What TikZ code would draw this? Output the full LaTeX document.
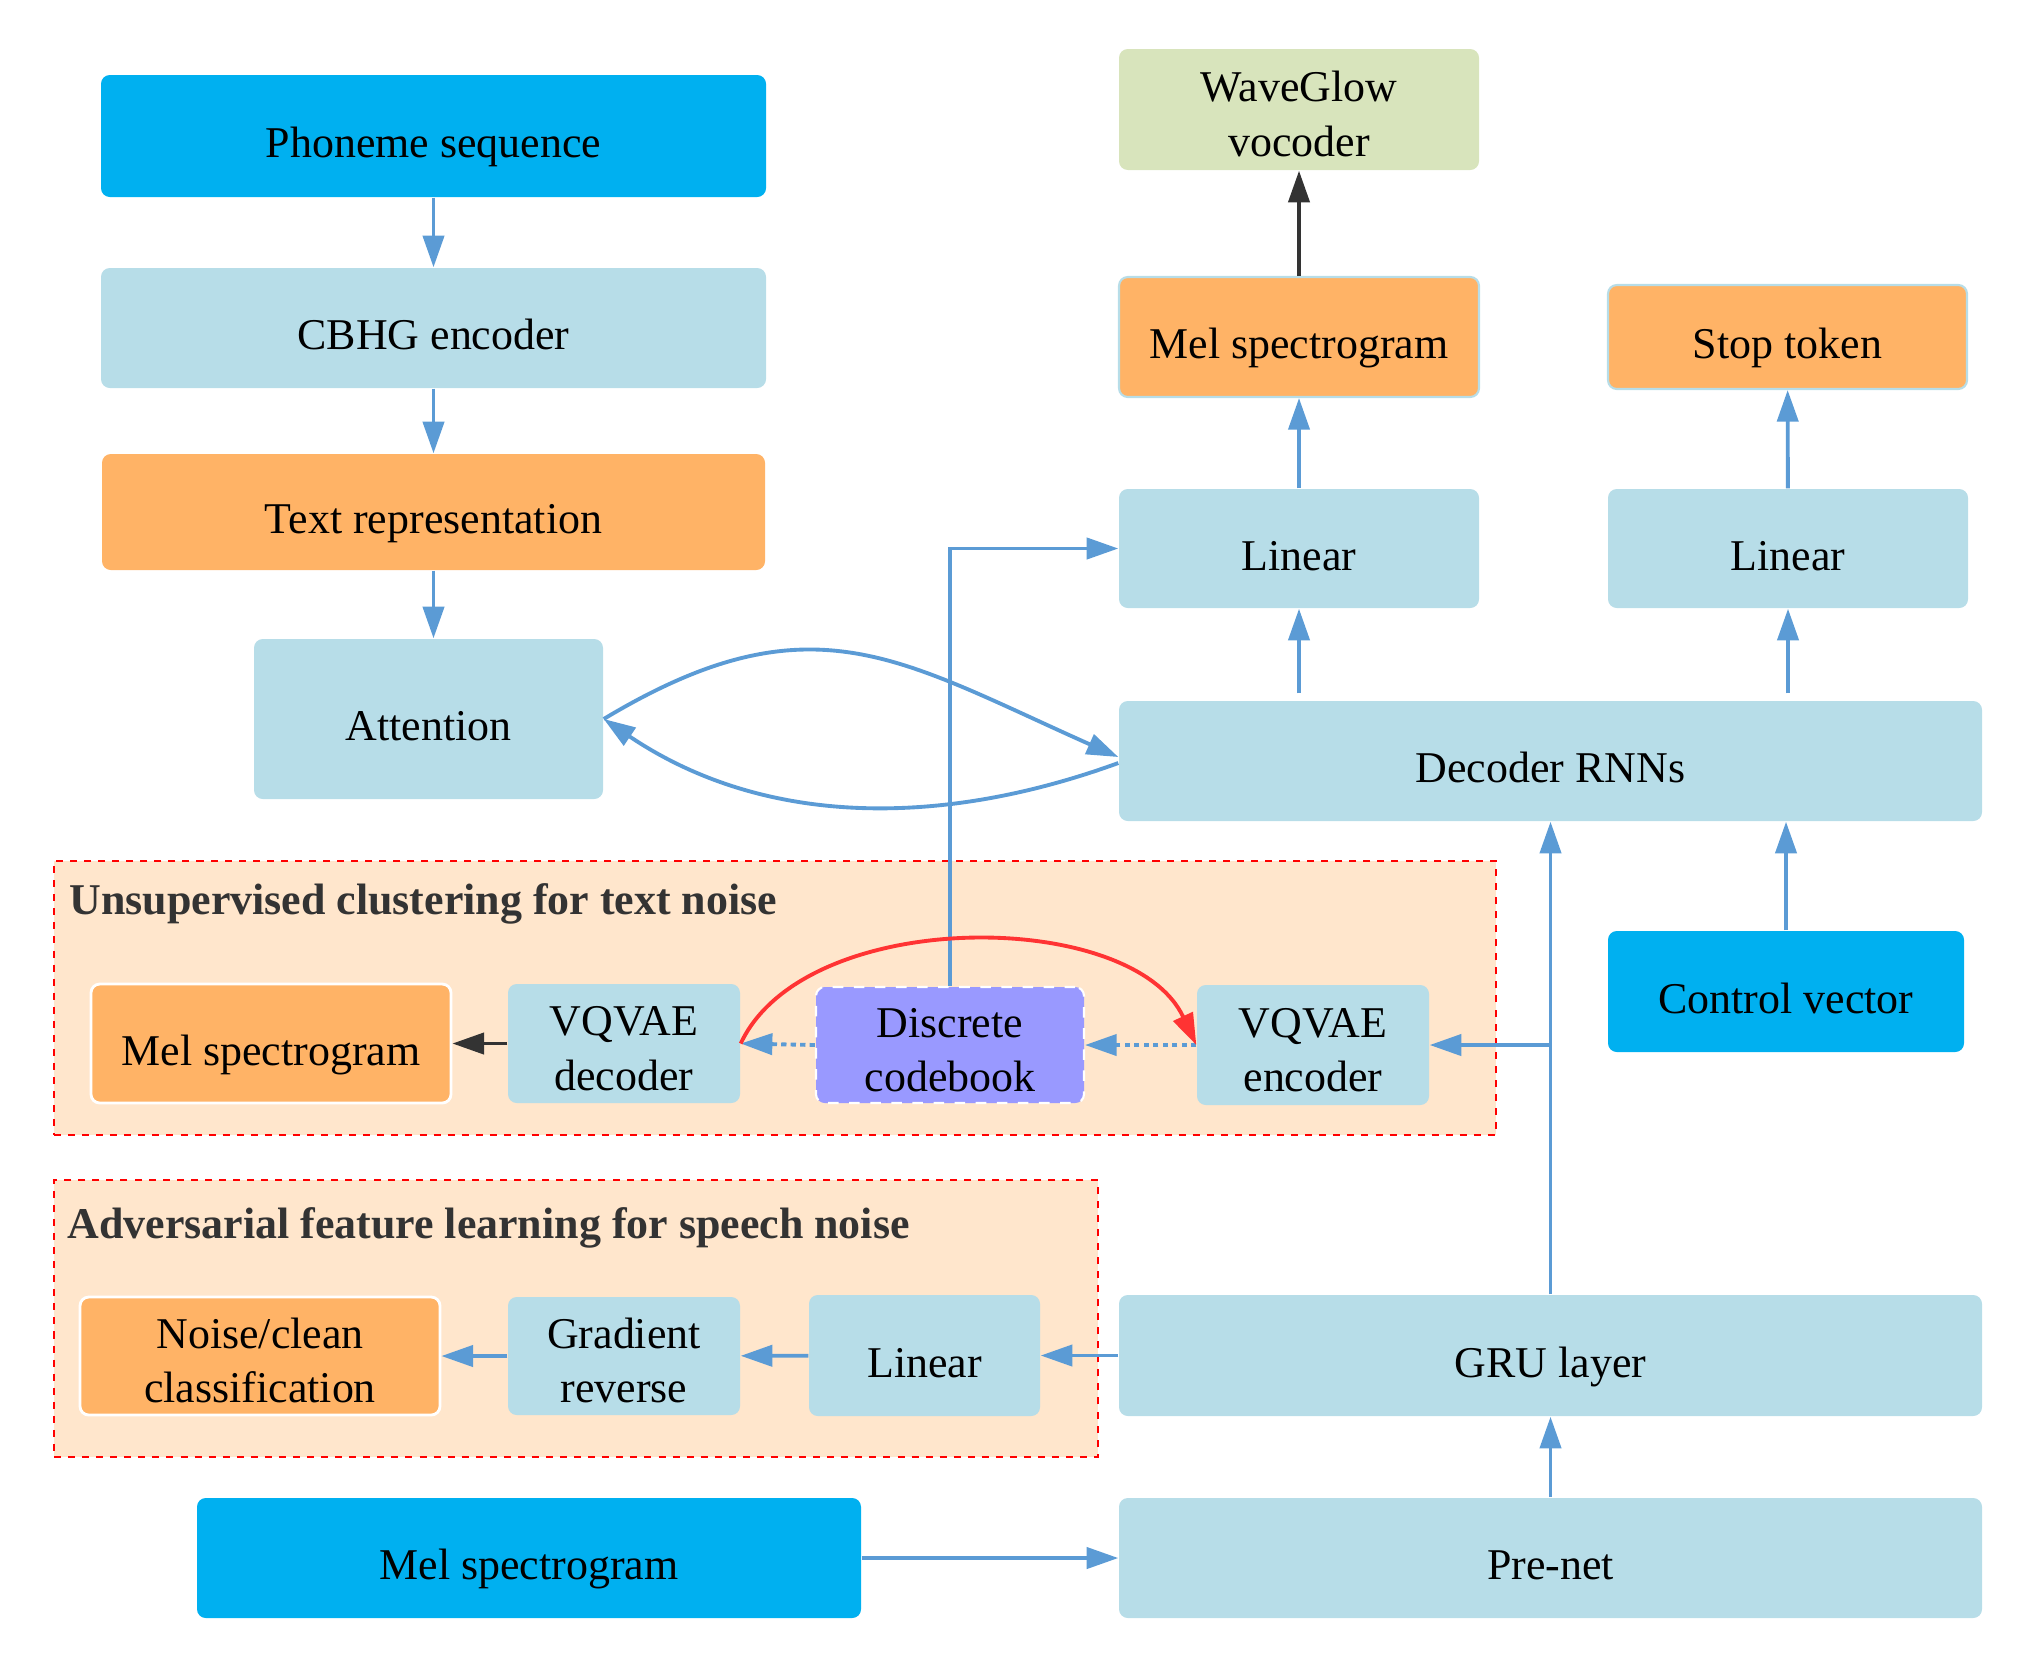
\documentclass[tikz,border=0pt]{standalone}
\usepackage{fontspec}
\setmainfont{Liberation Serif}
\usetikzlibrary{arrows.meta,positioning,calc}
\definecolor{cyanblk}{HTML}{00B0F0}
\definecolor{lblue}{HTML}{B7DDE8}
\definecolor{orng}{HTML}{FFB366}
\definecolor{sage}{HTML}{D8E4BC}
\definecolor{lilac}{HTML}{9999FF}
\definecolor{peach}{HTML}{FFE6CC}
\definecolor{arrblue}{HTML}{5B9BD5}
\definecolor{darkarr}{HTML}{333333}
\definecolor{arcred}{HTML}{FF3333}
\tikzset{
  blk/.style={rectangle,rounded corners=2.5pt,align=center,inner sep=1pt,text height=13.3pt,text depth=1pt,font=\fontsize{12.5}{15.5}\selectfont},
  twoln/.style={text height=27.7pt,text depth=1pt},
  inblk/.style={blk,fill=cyanblk},
  netblk/.style={blk,fill=lblue},
  outblk/.style={blk,fill=orng},
  vocblk/.style={blk,fill=sage},
  codeblk/.style={blk,fill=lilac,draw=white,dashed,line width=0.6pt},
  grpbox/.style={rectangle,draw=red,fill=peach,line width=0.8pt,dash pattern=on 2pt off 2pt},
  grplbl/.style={anchor=west,text=darkarr,font=\fontsize{12.5}{15}\selectfont\bfseries},
  arr/.style={-{Triangle[length=9pt,width=6pt]},arrblue,line width=1.1pt},
  darr/.style={arr,darkarr},
  qarr/.style={arr,dash pattern=on 1.5pt off 1.2pt},
  rarr/.style={arr,arcred}
}
\begin{document}
\begin{tikzpicture}
  \useasboundingbox (0,0) rectangle (20.33,-16.68);

  % noise branches
  \node[grpbox,minimum width=14.42cm,minimum height=2.74cm] (clus) at (7.75,-9.98) {};
  \node[grplbl] (clusT) at (0.57,-9.04) {Unsupervised clustering for text noise};
  \node[grpbox,minimum width=10.44cm,minimum height=2.77cm] (adv) at (5.76,-13.185) {};
  \node[grplbl] (advT) at (0.55,-12.28) {Adversarial feature learning for speech noise};

  % text encoder
  \node[inblk,minimum width=6.65cm,minimum height=1.22cm] (phon) at (4.335,-1.36) {Phoneme sequence};
  \node[netblk,minimum width=6.65cm,minimum height=1.20cm] (cbhg) at (4.335,-3.28) {CBHG encoder};
  \node[outblk,minimum width=6.63cm,minimum height=1.16cm] (txt) at (4.335,-5.12) {Text representation};
  \node[netblk,minimum width=3.49cm,minimum height=1.60cm] (attn) at (4.285,-7.19) {Attention};

  % decoder
  \node[vocblk,twoln,minimum width=3.60cm,minimum height=1.21cm] (wave) at (12.99,-1.095) {WaveGlow\\vocoder};
  \node[outblk,draw=lblue,line width=0.6pt,minimum width=3.60cm,minimum height=1.20cm] (melo) at (12.99,-3.37) {Mel spectrogram};
  \node[outblk,draw=lblue,line width=0.6pt,minimum width=3.59cm,minimum height=1.04cm] (stop) at (17.875,-3.37) {Stop token};
  \node[netblk,minimum width=3.60cm,minimum height=1.19cm] (lin1) at (12.99,-5.485) {Linear};
  \node[netblk,minimum width=3.60cm,minimum height=1.19cm] (lin2) at (17.88,-5.485) {Linear};
  \node[netblk,minimum width=8.63cm,minimum height=1.20cm] (dec) at (15.505,-7.61) {Decoder RNNs};
  \node[inblk,minimum width=3.56cm,minimum height=1.21cm] (ctrl) at (17.86,-9.915) {Control vector};

  % text noise
  \node[outblk,draw=white,line width=0.8pt,minimum width=3.60cm,minimum height=1.19cm] (melc) at (2.71,-10.435) {Mel spectrogram};
  \node[netblk,twoln,minimum width=2.32cm,minimum height=1.19cm] (vqdec) at (6.24,-10.435) {VQVAE\\decoder};
  \node[codeblk,twoln,minimum width=2.68cm,minimum height=1.16cm] (code) at (9.50,-10.45) {Discrete\\codebook};
  \node[netblk,twoln,minimum width=2.32cm,minimum height=1.20cm] (vqenc) at (13.13,-10.45) {VQVAE\\encoder};

  % speech noise
  \node[outblk,twoln,draw=white,line width=0.8pt,minimum width=3.60cm,minimum height=1.18cm] (noise) at (2.60,-13.56) {Noise/clean\\classification};
  \node[netblk,twoln,minimum width=2.32cm,minimum height=1.18cm] (grad) at (6.24,-13.56) {Gradient\\reverse};
  \node[netblk,minimum width=2.31cm,minimum height=1.21cm] (lin3) at (9.245,-13.555) {Linear};
  \node[netblk,minimum width=8.63cm,minimum height=1.21cm] (gru) at (15.505,-13.555) {GRU layer};
  \node[inblk,minimum width=6.64cm,minimum height=1.20cm] (melin) at (5.29,-15.58) {Mel spectrogram};
  \node[netblk,minimum width=8.63cm,minimum height=1.20cm] (pre) at (15.505,-15.58) {Pre-net};

  \draw[arr] (phon) -- (cbhg);
  \draw[arr] (cbhg) -- (txt);
  \draw[arr] (txt.south) -- (txt.south |- attn.north);
  \draw[arr] (attn.east) to[out=31,in=156,looseness=1.2] ($(dec.west)+(0,0.04)$);
  \draw[arr] ($(dec.west)+(0,-0.02)$) to[out=200,in=-34,looseness=0.95] (attn.east);
  \draw[arr,shorten <=2pt] (lin1.south |- dec.north) -- (lin1.south);
  \draw[arr,shorten <=2pt] (lin2.south |- dec.north) -- (lin2.south);
  \draw[arr] (lin1) -- (melo);
  \draw[arr] (lin2) -- (stop);
  \draw[darr] (melo) -- (wave);
  \draw[arr] (ctrl.north) -- (ctrl.north |- dec.south);
  \draw[arr] (pre) -- (gru);
  \draw[arr] (gru) -- (dec);
  \coordinate (tap) at (gru.north |- vqenc.east);
  \draw[arr] (tap) -- (vqenc.east);
  \draw[arr] (code.north) |- (lin1.west);
  \draw[qarr] (vqenc.west) -- (code.east);
  \draw[qarr] (code.west) -- (vqdec.east);
  \draw[rarr] (vqdec.east) to[out=65,in=115,looseness=0.85] (vqenc.west);
  \draw[darr] (vqdec) -- (melc);
  \draw[arr] (gru) -- (lin3);
  \draw[arr] (lin3) -- (grad);
  \draw[arr] (grad) -- (noise);
  \draw[arr] (melin) -- (pre);
\end{tikzpicture}
\end{document}
